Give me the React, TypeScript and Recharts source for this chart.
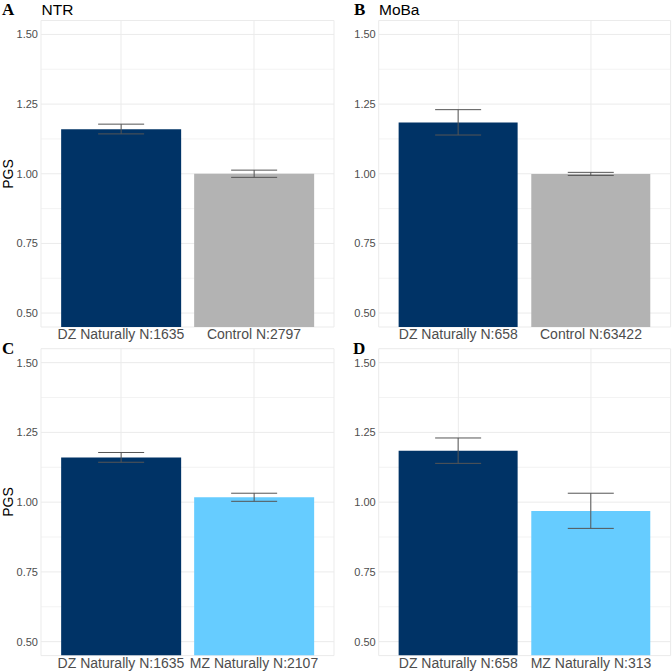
import React from 'react';
import { BarChart, Bar, XAxis, YAxis, CartesianGrid, ErrorBar, Cell } from 'recharts';

// Panel A – NTR
const categoriesA = ['DZ Naturally N:1635', 'Control N:2797'];
const meansA = [1.160, 1.000];
const lowerA = [1.143, 0.987];
const upperA = [1.178, 1.013];

// Panel B – MoBa
const categoriesB = ['DZ Naturally N:658', 'Control N:63422'];
const meansB = [1.184, 0.999];
const lowerB = [1.139, 0.994];
const upperB = [1.230, 1.005];

// Panel C – NTR
const categoriesC = ['DZ Naturally N:1635', 'MZ Naturally N:2107'];
const meansC = [1.160, 1.018];
const lowerC = [1.143, 1.003];
const upperC = [1.178, 1.032];

// Panel D – MoBa
const categoriesD = ['DZ Naturally N:658', 'MZ Naturally N:313'];
const meansD = [1.184, 0.968];
const lowerD = [1.139, 0.906];
const upperD = [1.230, 1.032];

const yTicks = [0.5, 0.75, 1.0, 1.25, 1.5];
const yMinorTicks = [0.625, 0.875, 1.125, 1.375];
const yDomain = [0.45, 1.55];

const DZ_COLOR = '#003366';
const CONTROL_COLOR = '#B3B3B3';
const MZ_COLOR = '#66CCFF';

const colorsA = [DZ_COLOR, CONTROL_COLOR];
const colorsB = [DZ_COLOR, CONTROL_COLOR];
const colorsC = [DZ_COLOR, MZ_COLOR];
const colorsD = [DZ_COLOR, MZ_COLOR];

const FONT = '"Liberation Sans", Arial, Helvetica, sans-serif';

function buildRows(cats: string[], means: number[], lo: number[], hi: number[]) {
  return cats.map((c, i) => ({
    name: c,
    value: means[i],
    err: [means[i] - lo[i], hi[i] - means[i]],
  }));
}

type PanelProps = {
  rows: { name: string; value: number; err: number[] }[];
  colors: string[];
  left: number;
  top: number;
  width: number;
  height: number;
  margin: { top: number; right: number; bottom: number; left: number };
  yAxisWidth: number;
  xAxisHeight: number;
  pad: number;
};

function Panel(p: PanelProps) {
  return (
    <div style={{ position: 'absolute', left: p.left, top: p.top, width: p.width, height: p.height }}>
      <BarChart
        width={p.width}
        height={p.height}
        data={p.rows}
        margin={p.margin}
        barCategoryGap="5%"
      >
        <CartesianGrid
          stroke="#f3f3f3"
          vertical={false}
          horizontalValues={yMinorTicks}
        />
        <CartesianGrid stroke="#ebebeb" />
        <XAxis
          dataKey="name"
          type="category"
          interval={0}
          tickLine={false}
          axisLine={false}
          tickSize={0}
          tickMargin={2}
          height={p.xAxisHeight}
          padding={{ left: p.pad, right: p.pad }}
          tick={{ fontSize: 14, fill: '#4d4d4d', fontFamily: FONT }}
        />
        <YAxis
          type="number"
          domain={yDomain}
          allowDataOverflow
          ticks={yTicks}
          tickFormatter={(v: number) => v.toFixed(2)}
          tickLine={false}
          axisLine={false}
          tickSize={0}
          tickMargin={3}
          width={p.yAxisWidth}
          tick={{ fontSize: 11, fill: '#4d4d4d', fontFamily: FONT }}
        />
        <Bar dataKey="value" isAnimationActive={false}>
          {p.rows.map((r, i) => (
            <Cell key={r.name} fill={p.colors[i]} />
          ))}
          <ErrorBar
            dataKey="err"
            direction="y"
            width={23}
            stroke="#555555"
            strokeWidth={1}
            isAnimationActive={false}
          />
        </Bar>
      </BarChart>
    </div>
  );
}

export default function App() {
  const rowsA = buildRows(categoriesA, meansA, lowerA, upperA);
  const rowsB = buildRows(categoriesB, meansB, lowerB, upperB);
  const rowsC = buildRows(categoriesC, meansC, lowerC, upperC);
  const rowsD = buildRows(categoriesD, meansD, lowerD, upperD);

  return (
    <div
      style={{
        position: 'absolute',
        left: 0,
        top: 0,
        width: 672,
        height: 672,
        overflow: 'hidden',
        background: '#ffffff',
        fontFamily: FONT,
      }}
    >
      <Panel
        rows={rowsA}
        colors={colorsA}
        left={0}
        top={0}
        width={336}
        height={347}
        margin={{ top: 20.5, right: 2, bottom: 0, left: 0 }}
        yAxisWidth={41}
        xAxisHeight={20}
        pad={13.5}
      />
      <Panel
        rows={rowsB}
        colors={colorsB}
        left={336}
        top={0}
        width={336}
        height={347}
        margin={{ top: 20.5, right: 1.4, bottom: 0, left: 0 }}
        yAxisWidth={42.7}
        xAxisHeight={20}
        pad={13.3}
      />
      <Panel
        rows={rowsC}
        colors={colorsC}
        left={0}
        top={328}
        width={336}
        height={344}
        margin={{ top: 20.7, right: 2, bottom: 0, left: 0 }}
        yAxisWidth={41}
        xAxisHeight={16.4}
        pad={13.5}
      />
      <Panel
        rows={rowsD}
        colors={colorsD}
        left={336}
        top={328}
        width={336}
        height={344}
        margin={{ top: 20.7, right: 1.4, bottom: 0, left: 0 }}
        yAxisWidth={42.7}
        xAxisHeight={16.4}
        pad={13.3}
      />
      <svg
        width={672}
        height={672}
        style={{ position: 'absolute', left: 0, top: 0, pointerEvents: 'none' }}
      >
        <text x={2} y={14.5} fontFamily='"Liberation Serif", "Times New Roman", serif' fontWeight="bold" fontSize={17} fill="#000">A</text>
        <text x={41.5} y={14.5} fontFamily={FONT} fontSize={15.5} fill="#000">NTR</text>
        <text x={354} y={14.5} fontFamily='"Liberation Serif", "Times New Roman", serif' fontWeight="bold" fontSize={17} fill="#000">B</text>
        <text x={379} y={14.5} fontFamily={FONT} fontSize={15.5} fill="#000">MoBa</text>
        <text x={2} y={354} fontFamily='"Liberation Serif", "Times New Roman", serif' fontWeight="bold" fontSize={17} fill="#000">C</text>
        <text x={353} y={354} fontFamily='"Liberation Serif", "Times New Roman", serif' fontWeight="bold" fontSize={17} fill="#000">D</text>
        <text transform="translate(13.3,174) rotate(-90)" textAnchor="middle" fontFamily={FONT} fontSize={14} fill="#000">PGS</text>
        <text transform="translate(13.3,502) rotate(-90)" textAnchor="middle" fontFamily={FONT} fontSize={14} fill="#000">PGS</text>
      </svg>
    </div>
  );
}
